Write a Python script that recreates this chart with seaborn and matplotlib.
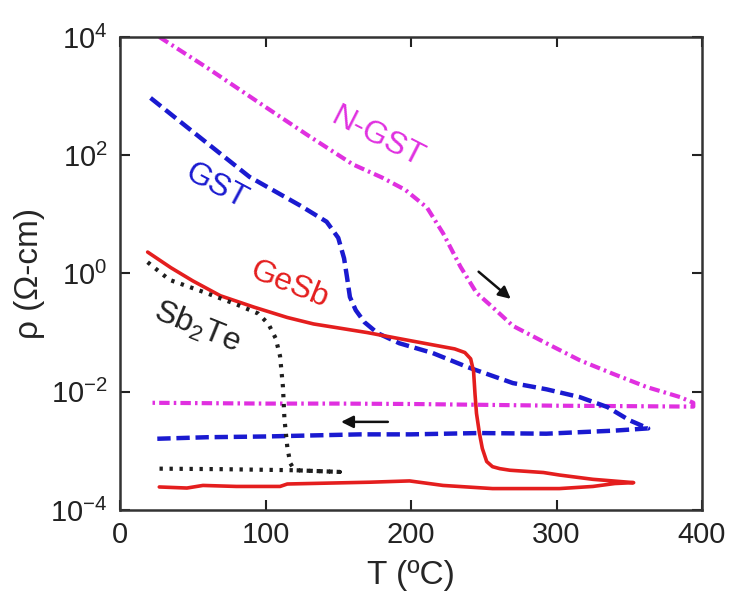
import matplotlib
matplotlib.use("Agg")
import matplotlib.pyplot as plt
import pandas as pd
import seaborn as sns
import numpy as np

# values (T in C, rho in Ohm-cm); each loop = heating then cooling
ngst_T_heat = [27, 60, 96, 130, 160, 180, 196, 211, 222, 234, 245, 256, 270, 293, 316, 339, 362, 385, 394]
ngst_r_heat = [1.0e4, 3.0e3, 7.6e2, 2.1e2, 70, 42, 26, 13, 4.8, 1.3, 0.47, 0.27, 0.13, 0.066, 0.034,
               0.020, 0.012, 8.1e-3, 6.5e-3]
ngst_T_cool = [394, 350, 300, 250, 200, 150, 100, 60, 21]
ngst_r_cool = [5.6e-3, 5.7e-3, 5.8e-3, 6.0e-3, 6.2e-3, 6.3e-3, 6.3e-3, 6.4e-3, 6.5e-3]

gst_T_heat = [21, 50, 89, 124, 142, 150, 154, 156, 158, 162, 168, 177, 192, 215, 239, 270, 293, 316,
              335, 350, 363]
gst_r_heat = [9.3e2, 2.5e2, 43, 14, 7.5, 4.0, 1.8, 0.87, 0.40, 0.24, 0.15, 0.098, 0.066, 0.045, 0.026,
              0.014, 0.011, 8.1e-3, 5.5e-3, 3.3e-3, 2.4e-3]
gst_T_cool = [363, 340, 293, 247, 200, 165, 100, 60, 25]
gst_r_cool = [2.4e-3, 2.2e-3, 1.95e-3, 2.0e-3, 1.9e-3, 1.9e-3, 1.75e-3, 1.7e-3, 1.6e-3]

gesb_T_heat = [19, 35, 50, 69, 92, 115, 133, 150, 170, 192, 215, 230, 237, 241, 243, 244, 245, 247,
               249, 252, 256, 261, 268, 291, 302, 325, 353]
gesb_r_heat = [2.3, 1.25, 0.75, 0.42, 0.27, 0.18, 0.14, 0.12, 0.10, 0.079, 0.062, 0.053, 0.046, 0.036,
               0.022, 9e-3, 4.3e-3, 2.0e-3, 1.1e-3, 6.6e-4, 5.4e-4, 5.0e-4, 4.7e-4, 4.3e-4, 3.9e-4,
               3.3e-4, 2.9e-4]
gesb_T_cool = [353, 340, 325, 302, 256, 222, 199, 172, 115, 110, 80, 57, 46, 27]
gesb_r_cool = [2.9e-4, 2.8e-4, 2.5e-4, 2.3e-4, 2.3e-4, 2.6e-4, 3.1e-4, 2.95e-4, 2.75e-4, 2.5e-4,
               2.5e-4, 2.6e-4, 2.35e-4, 2.45e-4]

sbte_T_heat = [19, 34, 57, 80, 95, 102, 107, 110, 112, 113, 115, 117, 120, 151]
sbte_r_heat = [1.55, 0.78, 0.49, 0.30, 0.21, 0.14, 0.08, 0.040, 0.012, 3.5e-3, 1.15e-3, 6.2e-4,
               4.7e-4, 4.4e-4]
sbte_T_cool = [151, 120, 70, 25]
sbte_r_cool = [4.4e-4, 4.7e-4, 4.9e-4, 5.0e-4]

x_ticks = [0, 100, 200, 300, 400]
y_ticks = [1e-4, 1e-2, 1e0, 1e2, 1e4]

sns.set_style("ticks")
plt.rcParams['font.family'] = ['Liberation Sans', 'DejaVu Sans']
plt.rcParams['mathtext.fontset'] = 'custom'
plt.rcParams['mathtext.rm'] = 'Liberation Sans'
plt.rcParams['mathtext.default'] = 'regular'

fig = plt.figure(figsize=(7.29, 5.98), dpi=100)
ax = fig.add_axes([0.1646, 0.1472, 0.7984, 0.7910])

def loop(T_h, r_h, T_c, r_c):
    return pd.DataFrame({"T": T_h + T_c, "rho": r_h + r_c})

lw = 3.0
sns.lineplot(data=loop(ngst_T_heat, ngst_r_heat, ngst_T_cool, ngst_r_cool), x="T", y="rho",
             sort=False, estimator=None, color="#e030e0", lw=lw, linestyle=(0, (2.5, 1.0, 0.6, 1.0)), ax=ax)
sns.lineplot(data=loop(gst_T_heat, gst_r_heat, gst_T_cool, gst_r_cool), x="T", y="rho",
             sort=False, estimator=None, color="#1a1ad0", lw=lw + 0.2, linestyle=(0, (3.0, 1.3)), ax=ax)
sns.lineplot(data=loop(gesb_T_heat, gesb_r_heat, gesb_T_cool, gesb_r_cool), x="T", y="rho",
             sort=False, estimator=None, color="#e41e1e", lw=lw - 0.4, ax=ax)
sns.lineplot(data=loop(sbte_T_heat, sbte_r_heat, sbte_T_cool, sbte_r_cool), x="T", y="rho",
             sort=False, estimator=None, color="#1e1e1e", lw=lw, linestyle=(0, (0.8, 1.6)), ax=ax)

ax.set_yscale("log")
ax.set_xlim(0, 400)
ax.set_ylim(1e-4, 1e4)
ax.set_xticks(x_ticks)
ax.set_yticks(y_ticks)
ax.minorticks_off()
ax.tick_params(direction="in", length=7, width=1.5, top=True, right=True, labelsize=21,
               colors="#222222")
ax.tick_params(axis="x", pad=8)
ax.tick_params(axis="y", pad=9)
for s in ax.spines.values():
    s.set_linewidth(1.8)
    s.set_color("#333333")

ax.set_xlabel("T (ºC)", fontsize=24, labelpad=8)
ax.set_ylabel("ρ (Ω-cm)", fontsize=24, labelpad=4)

# curve labels
ax.text(177, 10**2.3, "N-GST", color="#e030e0", fontsize=23, rotation=-27, ha="center", va="center")
ax.text(66, 10**1.48, "GST", color="#1a1ad0", fontsize=23, rotation=-28, ha="center", va="center")
ax.text(116, 10**-0.2, "GeSb", color="#e41e1e", fontsize=23, rotation=-22, ha="center", va="center")
ax.text(53, 10**-0.9, "Sb$_2$Te", color="#222222", fontsize=23, rotation=-22, ha="center", va="center")

# heating / cooling arrows
heat_arrow = ((245, 10**0.06), (270, 10**-0.46))
cool_arrow = ((186, 10**-2.51), (150, 10**-2.51))
for (x0, y0), (x1, y1) in [heat_arrow, cool_arrow]:
    ax.annotate("", xy=(x1, y1), xytext=(x0, y0),
                arrowprops=dict(arrowstyle="-|>", color="#111111", lw=1.8, mutation_scale=18))

fig.savefig("out.png", dpi=100)
